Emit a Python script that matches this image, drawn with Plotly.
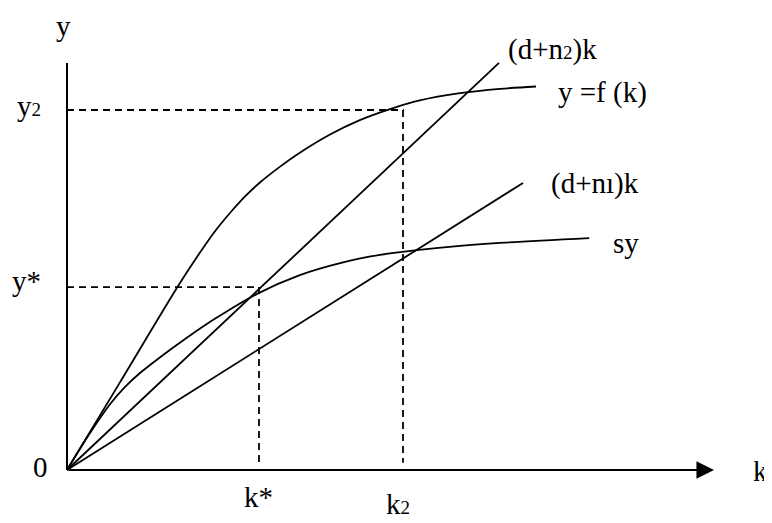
import plotly.graph_objects as go

# ---- data (model units) ----
k_f = [0, 1.10, 2.35, 2.77, 3.08, 3.40, 3.71, 4.02, 4.44, 4.85, 5.48, 6.10, 6.73, 7.35, 8.19, 9.02, 9.77]
y_f = [0, 1.82, 3.89, 4.53, 4.97, 5.36, 5.70, 5.99, 6.32, 6.61, 6.99, 7.29, 7.52, 7.70, 7.85, 7.94, 7.99]

k_sy = [0, 0.48, 0.90, 1.21, 1.52, 1.94, 2.46, 3.08, 3.96, 4.85, 5.69, 6.52, 7.29, 8.19, 9.02, 10.88]
y_sy = [0, 0.77, 1.375, 1.73, 2.02, 2.35, 2.73, 3.15, 3.67, 4.06, 4.31, 4.48, 4.58, 4.67, 4.73, 4.83]

k_n2 = [0, 9.0]
y_n2 = [0, 8.48]
k_n1 = [0, 9.5]
y_n1 = [0, 5.98]

k_star, y_star = 4.0, 3.81
k_2, y_2 = 7.0, 7.5

k_axis_end = 13.48
y_axis_end = 8.48

FONT = "Liberation Serif, serif"
FS = 29
BLACK = "#000000"
SUB = '<span style="font-size:19px">{}</span>'

fig = go.Figure()

solid = dict(color=BLACK, width=1.8)
fig.add_trace(go.Scatter(x=k_f, y=y_f, mode="lines", line=dict(shape="spline", smoothing=1.0, **solid), hoverinfo="skip"))
fig.add_trace(go.Scatter(x=k_sy, y=y_sy, mode="lines", line=dict(shape="spline", smoothing=1.0, **solid), hoverinfo="skip"))
fig.add_trace(go.Scatter(x=k_n2, y=y_n2, mode="lines", line=solid, hoverinfo="skip"))
fig.add_trace(go.Scatter(x=k_n1, y=y_n1, mode="lines", line=solid, hoverinfo="skip"))

dash = dict(color=BLACK, width=1.8, dash="7px,5px")
fig.add_trace(go.Scatter(x=[0, k_star, k_star], y=[y_star, y_star, 0.15], mode="lines", line=dash, hoverinfo="skip"))
fig.add_trace(go.Scatter(x=[0, k_2, k_2], y=[y_2, y_2, 0.15], mode="lines", line=dash, hoverinfo="skip"))

# y axis
fig.add_trace(go.Scatter(x=[0, 0], y=[0, y_axis_end], mode="lines", line=dict(color=BLACK, width=2), hoverinfo="skip"))

annotations = [
    # x axis with arrow head
    dict(x=k_axis_end, y=0, ax=0, ay=0, xref="x", yref="y", axref="x", ayref="y",
         showarrow=True, arrowhead=2, arrowsize=1.6, arrowwidth=2.2, arrowcolor=BLACK, text=""),
]

def label(text, x, y, xanchor="center", yanchor="middle"):
    annotations.append(dict(x=x, y=y, xref="x", yref="y", text=text, showarrow=False,
                            xanchor=xanchor, yanchor=yanchor,
                            font=dict(family=FONT, size=FS, color=BLACK)))

label("y", -0.083, 9.62, yanchor="top")
label("y" + SUB.format("2"), -0.5, 7.58, xanchor="right")
label("y*", -0.5, 3.94, xanchor="right")
label("0", -0.56, 0.06)
label("k*", k_star, -0.56)
label("k" + SUB.format("2"), 6.9, -0.70)
label("k", 14.44, -0.02)
label("(d+n" + SUB.format("2") + ")k", 9.15, 8.77, xanchor="left")
label("y =f (k)", 10.19, 7.875, xanchor="left")
label("(d+nı)k", 10.04, 5.96, xanchor="left")
label("sy", 11.33, 4.73, xanchor="left")

# the page body has an 8px margin, so the figure fills the remaining window area
fig.update_layout(
    width=764, height=515,
    margin=dict(l=0, r=0, t=0, b=0),
    paper_bgcolor="white", plot_bgcolor="white",
    showlegend=False,
    xaxis=dict(visible=False, range=[-1.229, 14.6875], fixedrange=True),
    yaxis=dict(visible=False, range=[-1.104, 9.625], fixedrange=True),
    annotations=annotations,
)

fig.write_html("out.html")
